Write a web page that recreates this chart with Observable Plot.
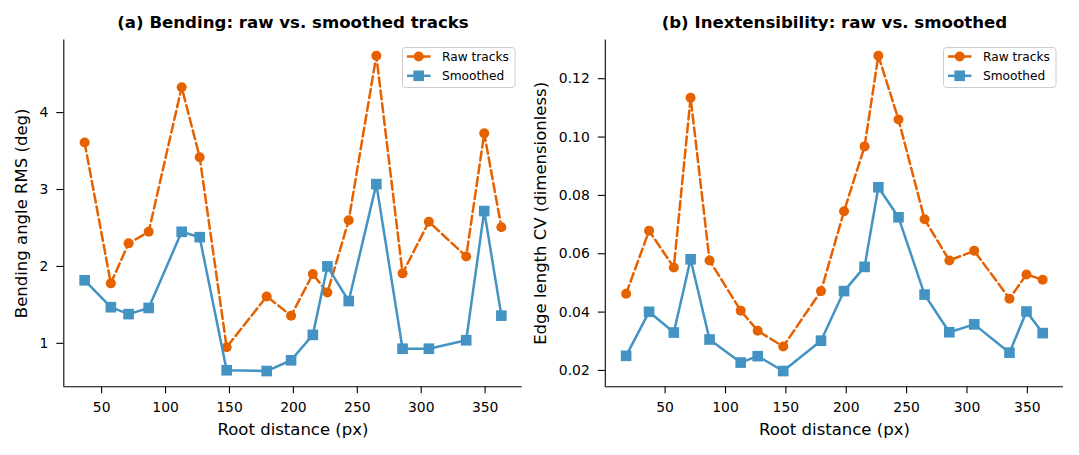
<!DOCTYPE html>
<html>
<head>
<meta charset="utf-8">
<script src="https://cdn.jsdelivr.net/npm/d3@7"></script>
<script src="https://cdn.jsdelivr.net/npm/@observablehq/plot@0.6"></script>
<style>
  html, body { margin: 0; padding: 0; background: #fff; }
  #chart { position: relative; width: 1079px; height: 455px; overflow: hidden; display: flex; }
  #chart svg { display: block; }
  .legend { position: absolute; overflow: visible; }
</style>
</head>
<body>
<div id="chart"></div>
<script>
// Root distance (px) of each tracked node
const rootDistance = [17.7, 36.7, 57.2, 71.1, 86.8, 112.6, 126.7, 147.8, 179.1, 198.2, 215.2, 226.6, 243.3, 264.9, 285.4, 306.0, 335.2, 349.3, 362.7];

// (a) Bending angle RMS (deg); no bending estimate at the first node
const bendRaw    = [null, 3.61, 1.78, 2.30, 2.45, 4.33, 3.42, 0.95, 1.61, 1.36, 1.90, 1.66, 2.60, 4.74, 1.91, 2.58, 2.13, 3.73, 2.51];
const bendSmooth = [null, 1.82, 1.47, 1.38, 1.46, 2.45, 2.38, 0.65, 0.64, 0.78, 1.11, 2.00, 1.55, 3.07, 0.93, 0.93, 1.04, 2.72, 1.36];

// (b) Edge length coefficient of variation
const cvRaw    = [0.0463, 0.0679, 0.0553, 0.1135, 0.0577, 0.0405, 0.0336, 0.0282, 0.0472, 0.0746, 0.0968, 0.1279, 0.1060, 0.0718, 0.0577, 0.0610, 0.0446, 0.0529, 0.0511];
const cvSmooth = [0.0250, 0.0401, 0.0330, 0.0581, 0.0306, 0.0227, 0.0249, 0.0198, 0.0302, 0.0472, 0.0555, 0.0828, 0.0725, 0.0460, 0.0331, 0.0358, 0.0261, 0.0402, 0.0328];

const xTicks = [50, 100, 150, 200, 250, 300, 350];
const bendTicks = [1, 2, 3, 4];
const cvTicks = [0.02, 0.04, 0.06, 0.08, 0.10, 0.12];

const seriesNames = ["Raw tracks", "Smoothed"];
const titles = ["(a) Bending: raw vs. smoothed tracks", "(b) Inextensibility: raw vs. smoothed"];
const xLabel = "Root distance (px)";
const yLabels = ["Bending angle RMS (deg)", "Edge length CV (dimensionless)"];

const RAW = "#e66100";
const SMOOTH = "#4393c3";
const FONT = "DejaVu Sans";
const LINE_W = 2.5;
const DASH = "9,4";

const toRows = (ys) => rootDistance.map((x, i) => ({x, y: ys[i]})).filter(d => d.y != null);

// axis extent padded by 5% of the data span on each side
function padded(values) {
  const [lo, hi] = d3.extent(values.filter(v => v != null));
  const m = (hi - lo) * 0.05;
  return [lo - m, hi + m];
}

function panel({width, marginLeft, marginRight, raw, smooth, yTicks, yFormat, title, yLabel, yLabelDx}) {
  const rawRows = toRows(raw);
  const smoothRows = toRows(smooth);
  const xDomain = padded(rawRows.map(d => d.x));
  const yDomain = padded([...raw, ...smooth]);
  return Plot.plot({
    width, height: 455,
    marginTop: 39.4, marginBottom: 68.7, marginLeft, marginRight,
    style: {fontFamily: FONT, fontSize: "13.9px", color: "#000", background: "transparent", overflow: "visible"},
    x: {domain: xDomain},
    y: {domain: yDomain},
    marks: [
      Plot.ruleX([xDomain[0]], {stroke: "#000", strokeWidth: 1.1}),
      Plot.ruleY([yDomain[0]], {stroke: "#000", strokeWidth: 1.1}),
      Plot.axisX({ticks: xTicks, tickSize: 7, tickPadding: 8, label: null, strokeWidth: 1.1, fontSize: 13.9}),
      Plot.axisY({ticks: yTicks, tickSize: 7, tickPadding: 8.5, label: null, tickFormat: yFormat, strokeWidth: 1.1, fontSize: 13.9}),
      Plot.line(rawRows, {x: "x", y: "y", stroke: RAW, strokeWidth: LINE_W, strokeDasharray: DASH}),
      Plot.dot(rawRows, {x: "x", y: "y", r: 5, fill: RAW, stroke: "none"}),
      Plot.line(smoothRows, {x: "x", y: "y", stroke: SMOOTH, strokeWidth: LINE_W}),
      Plot.dot(smoothRows, {x: "x", y: "y", r: 6, symbol: "square", fill: SMOOTH, stroke: "none"}),
      Plot.text([title], {frameAnchor: "top", dy: -17.7, fontSize: 16.6, fontWeight: "bold", fill: "#000", textAnchor: "middle", lineAnchor: "middle"}),
      Plot.text([xLabel], {frameAnchor: "bottom", dy: 43.4, fontSize: 16.5, fill: "#000", textAnchor: "middle", lineAnchor: "middle"}),
      Plot.text([yLabel], {frameAnchor: "left", dx: yLabelDx, rotate: -90, fontSize: 16.5, fill: "#000", textAnchor: "middle", lineAnchor: "middle"})
    ]
  });
}

const chart = document.getElementById("chart");
chart.append(panel({
  width: 525, marginLeft: 63.3, marginRight: 3.3,
  raw: bendRaw, smooth: bendSmooth, yTicks: bendTicks, yFormat: d3.format("d"),
  title: titles[0], yLabel: yLabels[0], yLabelDx: -41.6
}));
chart.append(panel({
  width: 554, marginLeft: 79.8, marginRight: 16,
  raw: cvRaw, smooth: cvSmooth, yTicks: cvTicks, yFormat: d3.format(".2f"),
  title: titles[1], yLabel: yLabels[1], yLabelDx: -64.8
}));

// legend boxes, one per panel
function legend(left, top) {
  const svg = d3.select(chart).append("svg")
    .attr("class", "legend")
    .style("left", left + "px").style("top", top + "px")
    .attr("width", 114).attr("height", 41);
  svg.append("rect").attr("x", 0.5).attr("y", 0.5).attr("width", 112.5).attr("height", 40)
    .attr("rx", 3).attr("fill", "#fff").attr("fill-opacity", 0.8)
    .attr("stroke", "#cccccc").attr("stroke-width", 1);
  const colors = [RAW, SMOOTH];
  seriesNames.forEach((name, i) => {
    const y = 9.5 + i * 19.3;
    const g = svg.append("g");
    g.append("line").attr("x1", 5).attr("x2", 28.5).attr("y1", y).attr("y2", y)
      .attr("stroke", colors[i]).attr("stroke-width", LINE_W);
    if (i === 0) g.append("circle").attr("cx", 16.7).attr("cy", y).attr("r", 5).attr("fill", colors[i]);
    else g.append("rect").attr("x", 16.7 - 5.3).attr("y", y - 5.3).attr("width", 10.6).attr("height", 10.6).attr("fill", colors[i]);
    g.append("text").attr("x", 40).attr("y", y).attr("dy", "0.35em")
      .attr("font-family", FONT).attr("font-size", 12.2).attr("fill", "#000").text(name);
  });
}
legend(401.5, 46.5);
legend(943.3, 46.5);
</script>
</body>
</html>
